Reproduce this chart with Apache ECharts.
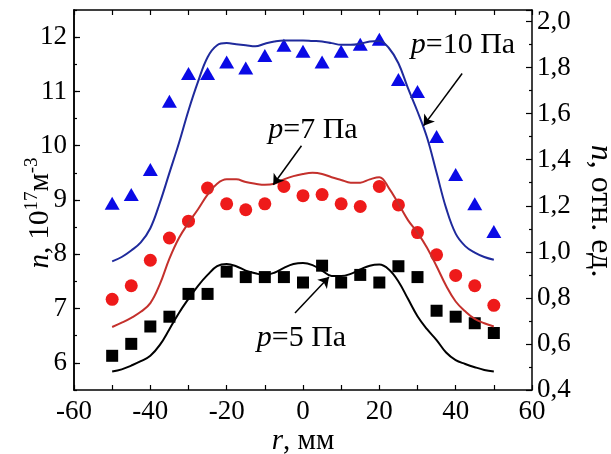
<!DOCTYPE html>
<html>
<head>
<meta charset="utf-8">
<script src="https://cdn.jsdelivr.net/npm/echarts@6/dist/echarts.min.js"></script>
<style>
html, body { margin: 0; padding: 0; background: #fff; }
#chart { width: 611px; height: 454px; }
</style>
</head>
<body>
<div id="chart"></div>
<script>
// Radial positions of the probe measurements, mm
const radius = [-50, -45, -40, -35, -30, -25, -20, -15, -10, -5, 0, 5, 10, 15, 20, 25, 30, 35, 40, 45, 50];
// Measured electron density, 10^17 m^-3
const measured10 = [8.94, 9.10, 9.56, 10.82, 11.33, 11.33, 11.54, 11.43, 11.66, 11.85, 11.74, 11.54, 11.74, 11.87, 11.96, 11.22, 11.00, 10.17, 9.47, 8.93, 8.42];
const measured7 = [7.17, 7.42, 7.89, 8.30, 8.61, 9.22, 8.93, 8.82, 8.93, 9.25, 9.08, 9.10, 8.93, 8.88, 9.25, 8.91, 8.40, 7.99, 7.61, 7.42, 7.06];
const measured5 = [6.13, 6.35, 6.67, 6.85, 7.27, 7.27, 7.68, 7.58, 7.58, 7.58, 7.48, 7.79, 7.48, 7.62, 7.48, 7.78, 7.58, 6.96, 6.85, 6.73, 6.55];

// Computed profiles (relative units drawn on the density scale)
const fitRadius = [-50, -47.5, -45, -42.5, -40, -37.5, -35, -32.5, -30, -27.5, -25, -22.5, -20, -17.5, -15, -12.5, -10, -7.5, -5, -2.5, 0,
  2.5, 5, 7.5, 10, 12.5, 15, 17.5, 20, 22.5, 25, 27.5, 30, 32.5, 35, 37.5, 40, 42.5, 45, 47.5, 50];
const fit10 = [7.87, 7.95, 8.07, 8.22, 8.48, 8.95, 9.50, 10.05, 10.65, 11.18, 11.63, 11.85, 11.89, 11.87, 11.85, 11.83, 11.88, 11.92, 11.94, 11.94, 11.94,
  11.93, 11.92, 11.89, 11.86, 11.86, 11.88, 11.92, 11.93, 11.80, 11.52, 11.06, 10.63, 10.15, 9.50, 8.85, 8.38, 8.15, 8.03, 7.95, 7.90];
const fit7 = [6.66, 6.74, 6.83, 6.94, 7.10, 7.45, 7.92, 8.30, 8.58, 8.83, 9.10, 9.30, 9.38, 9.38, 9.33, 9.30, 9.28, 9.30, 9.38, 9.44, 9.48,
  9.50, 9.48, 9.42, 9.37, 9.32, 9.32, 9.38, 9.42, 9.22, 8.93, 8.63, 8.40, 8.12, 7.78, 7.42, 7.13, 6.95, 6.81, 6.73, 6.67];
const fit5 = [5.84, 5.88, 5.95, 6.03, 6.13, 6.33, 6.62, 6.92, 7.18, 7.42, 7.62, 7.78, 7.82, 7.78, 7.70, 7.65, 7.62, 7.66, 7.75, 7.82, 7.84,
  7.80, 7.70, 7.60, 7.60, 7.64, 7.72, 7.79, 7.81, 7.72, 7.50, 7.18, 6.86, 6.62, 6.42, 6.19, 6.05, 5.98, 5.92, 5.87, 5.84];

// Axis tick labels
const xTickValues = [-60, -40, -20, 0, 20, 40, 60];
const leftTickValues = [6, 7, 8, 9, 10, 11, 12];
const rightTickValues = [0.4, 0.6, 0.8, 1.0, 1.2, 1.4, 1.6, 1.8, 2.0];

// Pressure labels with their arrow anchors (r, n)
const labels = ['p=10 Па', 'p=7 Па', 'p=5 Па'];
const labelPos = [[41.9, 11.86], [2.6, 10.28], [-0.4, 6.46]];
const arrowFrom = [[41.7, 11.33], [-0.4, 10.0], [-2.1, 6.92]];
const arrowTo = [[31.6, 10.37], [-7.8, 9.28], [6.8, 7.58]];

const FONT = 'Liberation Serif';
const FS = 27;      // tick labels
const FS_NOTE = 30; // pressure labels
const FS_NAME = 29; // axis titles

const pairs = (xs, ys) => xs.map((x, i) => [x, ys[i]]);

const richText = size => ({
  it: { fontStyle: 'italic', fontFamily: FONT, fontSize: size, color: '#000' },
  t: { fontFamily: FONT, fontSize: size, color: '#000' }
});

function pressureMarks(i) {
  const txt = labels[i];
  return {
    markLine: {
      silent: true,
      symbol: ['none', 'arrow'],
      symbolSize: 10,
      label: { show: false },
      lineStyle: { color: '#000', width: 1.5, type: 'solid' },
      emphasis: { disabled: true },
      data: [[{ coord: arrowFrom[i] }, { coord: arrowTo[i] }]]
    },
    markPoint: {
      silent: true,
      symbol: 'rect',
      symbolSize: 1,
      itemStyle: { color: 'rgba(0,0,0,0)' },
      label: {
        show: true,
        position: 'inside',
        color: '#000',
        fontFamily: FONT,
        fontSize: FS_NOTE,
        formatter: '{it|p}{t|' + txt.slice(1) + '}',
        rich: richText(FS_NOTE)
      },
      data: [{ coord: labelPos[i] }]
    }
  };
}

const tickLabel = { color: '#000', fontFamily: FONT, fontSize: FS };
const frameLine = { show: true, onZero: false, lineStyle: { color: '#000', width: 1.5 } };

const chart = echarts.init(document.getElementById('chart'));
chart.setOption({
  animation: false,
  backgroundColor: '#fff',
  grid: { left: 74, right: 79, top: 10, bottom: 64, containLabel: false, outerBoundsMode: 'none' },
  xAxis: [
    {
      type: 'value', min: -60, max: 60, interval: 10, position: 'bottom',
      axisLine: frameLine,
      axisTick: { inside: true, length: 5, lineStyle: { color: '#000', width: 1.2 } },
      axisLabel: { ...tickLabel, margin: 8, customValues: xTickValues },
      splitLine: { show: false },
      name: '{it|r}{t|, мм}', nameLocation: 'middle', nameGap: 37, nameMoveOverlap: false,
      nameTextStyle: { color: '#000', fontFamily: FONT, fontSize: FS_NAME, rich: richText(FS_NAME) }
    },
    {
      type: 'value', min: -60, max: 60, interval: 10, position: 'top',
      axisLine: frameLine,
      axisTick: { inside: true, length: 5, lineStyle: { color: '#000', width: 1.2 } },
      axisLabel: { show: false },
      splitLine: { show: false }
    }
  ],
  yAxis: [
    {
      type: 'value', min: 5.5, max: 12.5, interval: 0.5, position: 'left',
      axisLine: frameLine,
      axisTick: { inside: true, length: 3, lineStyle: { color: '#000', width: 1.2 } },
      axisLabel: { show: false },
      splitLine: { show: false }
    },
    {
      type: 'value', min: 5.5, max: 12.5, position: 'left',
      axisLine: frameLine,
      axisTick: { inside: true, length: 6, customValues: leftTickValues, lineStyle: { color: '#000', width: 1.2 } },
      axisLabel: { ...tickLabel, margin: 7, customValues: leftTickValues },
      splitLine: { show: false },
      name: '{it|n}{t|, 10}{sup|17}{t|м}{sup|-3}', nameLocation: 'middle', nameGap: 17, nameMoveOverlap: false,
      nameTextStyle: {
        color: '#000', fontFamily: FONT, fontSize: FS_NAME,
        padding: [0, 26, 0, 0],
        rich: {
          it: { fontStyle: 'italic', fontFamily: FONT, fontSize: FS_NAME, lineHeight: 34, color: '#000' },
          t: { fontFamily: FONT, fontSize: FS_NAME, lineHeight: 34, color: '#000' },
          sup: { fontFamily: FONT, fontSize: 19, lineHeight: 19, verticalAlign: 'top', color: '#000' }
        }
      }
    },
    {
      type: 'value', min: 0.4, max: 2.05, interval: 0.2, position: 'right',
      axisLine: frameLine,
      axisTick: { inside: true, length: 6, lineStyle: { color: '#000', width: 1.2 } },
      minorTick: { show: true, splitNumber: 2, length: 3, lineStyle: { color: '#000', width: 1.2 } },
      axisLabel: {
        ...tickLabel, margin: 5, customValues: rightTickValues,
        formatter: v => v.toFixed(1).replace('.', ',')
      },
      splitLine: { show: false },
      minorSplitLine: { show: false },
      name: '{it|n}{t|, отн. ед.}', nameLocation: 'middle', nameGap: 52, nameRotate: -90, nameMoveOverlap: false,
      nameTextStyle: { color: '#000', fontFamily: FONT, fontSize: 32, padding: [0, 0, 0, 22], rich: richText(32) }
    }
  ],
  series: [
    Object.assign({
      name: 'fit10', type: 'line', yAxisIndex: 0, smooth: 0.4, showSymbol: false, silent: true,
      data: pairs(fitRadius, fit10),
      lineStyle: { color: '#1f2a9c', width: 2 }, itemStyle: { color: '#1f2a9c' }
    }, pressureMarks(0)),
    Object.assign({
      name: 'fit7', type: 'line', yAxisIndex: 0, smooth: 0.4, showSymbol: false, silent: true,
      data: pairs(fitRadius, fit7),
      lineStyle: { color: '#c4302c', width: 2 }, itemStyle: { color: '#c4302c' }
    }, pressureMarks(1)),
    Object.assign({
      name: 'fit5', type: 'line', yAxisIndex: 0, smooth: 0.4, showSymbol: false, silent: true,
      data: pairs(fitRadius, fit5),
      lineStyle: { color: '#000', width: 2 }, itemStyle: { color: '#000' }
    }, pressureMarks(2)),
    {
      name: 'p10', type: 'scatter', yAxisIndex: 0, symbol: 'triangle', symbolSize: [15, 13],
      data: pairs(radius, measured10), itemStyle: { color: '#0a0ae6', opacity: 1 }
    },
    {
      name: 'p7', type: 'scatter', yAxisIndex: 0, symbol: 'circle', symbolSize: 13,
      data: pairs(radius, measured7), itemStyle: { color: '#ee1a1a', opacity: 1 }
    },
    {
      name: 'p5', type: 'scatter', yAxisIndex: 0, symbol: 'rect', symbolSize: 12,
      data: pairs(radius, measured5), itemStyle: { color: '#000', opacity: 1 }
    }
  ]
});
</script>
</body>
</html>
